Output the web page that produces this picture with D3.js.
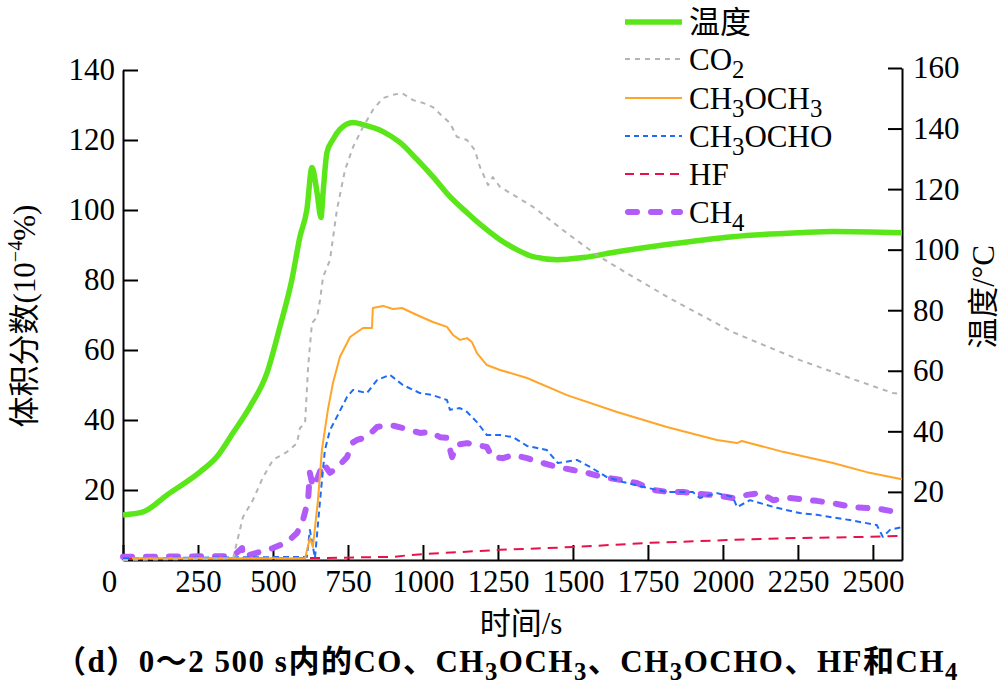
<!DOCTYPE html>
<html lang="zh">
<head>
<meta charset="UTF-8">
<title>0~2500 s 气体体积分数与温度</title>
<script src="https://d3js.org/d3.v7.min.js"></script>
<style>
  body { margin: 0; background: #fff; }
  svg { display: block; font-family: "Liberation Serif", "Noto Sans CJK SC", serif; }
  .axis path, .axis line { stroke: #000; stroke-width: 2px; }
  .axis text { font-size: 31px; fill: #000; font-family: "Liberation Serif", serif; }
  .series { fill: none; }
</style>
</head>
<body>
<div id="chart"></div>
<script>
// ---- data ----
const xTicks = [0, 250, 500, 750, 1000, 1250, 1500, 1750, 2000, 2250, 2500];
const leftTicks = [20, 40, 60, 80, 100, 120, 140];
const rightTicks = [20, 40, 60, 80, 100, 120, 140, 160];

// temperature, °C (right axis)
const tempData = [[0,12.4],[67,13.4],[147,19],[257,26.6],[313,31.6],[367,39.5],[423,48.1],[480,59.3],
  [523,74.5],[563,90.1],[590,104.3],[613,113.2],[630,127.1],[647,118.8],[660,110.6],[667,118.8],
  [680,132.1],[700,136.4],[723,139.7],[767,142],[800,141.3],[867,139],[923,135.4],[980,129.8],
  [1033,124.1],[1090,117.5],[1147,112.2],[1200,107.6],[1257,103.3],[1313,100],[1367,97.7],
  [1447,96.7],[1533,97.4],[1647,99.3],[1813,101.7],[2033,104.3],[2257,105.6],[2367,106],[2597,105.6]];

// volume fraction, 10^-4 % (left axis)
const co2Data = [[0,0],[367,0.5],[400,12.3],[433,17.1],[467,23.7],[500,28.6],[547,30.9],[580,33.4],
  [590,37.7],[607,39.1],[617,55.1],[630,67.7],[647,69.4],[657,74.3],[667,80.9],[690,85.7],[713,100],
  [740,111.4],[767,118],[800,123.7],[833,128.6],[867,132],[900,132.9],[930,133.4],[967,131.4],
  [1000,130.6],[1033,129.4],[1067,126.6],[1090,124.9],[1113,120.9],[1147,120],[1173,117.1],
  [1190,112.3],[1217,107.1],[1233,109.4],[1257,106.6],[1367,100.9],[1480,93.4],[1580,87.1],
  [1700,80.9],[1833,74.3],[2033,65.1],[2257,57.1],[2423,52],[2567,47.7],[2597,47.4]];

const dmeData = [[30,0.5],[607,0.5],[623,6.3],[633,3.7],[650,17.1],[663,31.4],[683,42.9],[700,50.6],
  [723,58],[757,63.7],[800,66.3],[830,66.3],[833,72],[867,72.6],[900,71.7],[930,72],[980,70],
  [1033,68],[1080,66.6],[1100,64.3],[1123,62.9],[1147,63.4],[1163,62.3],[1180,59.1],[1213,55.7],
  [1257,54.3],[1347,52],[1480,47.1],[1647,42.3],[1813,38],[1980,34.3],[2047,33.4],[2063,34],
  [2200,30.9],[2367,27.7],[2480,25.1],[2597,23.1]];

const mfData = [[0,0.5],[613,0.9],[623,8.6],[640,0.6],[657,17.1],[673,31.4],[690,37.1],[713,40.9],
  [747,46.6],[767,48.6],[813,47.7],[847,51.4],[890,52.9],[933,50],[990,47.7],[1033,47.1],[1080,45.7],
  [1090,42.9],[1123,43.4],[1147,42.3],[1180,39.4],[1213,35.7],[1257,35.7],[1300,35.1],[1347,32.6],
  [1413,31.4],[1450,27.7],[1513,28.6],[1557,26.6],[1613,23.7],[1667,22.3],[1733,20.9],[1813,19.4],
  [1900,19.4],[1923,17.7],[1980,19.1],[2033,18],[2047,15.1],[2090,17.1],[2180,14.9],[2257,13.4],
  [2313,12.9],[2423,11.4],[2513,10],[2533,6.6],[2557,8.6],[2597,9.4]];

const hfData = [[0,0.3],[680,0.6],[900,0.9],[957,1.4],[1000,1.7],[1257,2.9],[1500,3.7],[1757,4.9],
  [2013,5.7],[2257,6.3],[2480,6.6],[2597,6.9]];

const ch4Data = [[0,0.9],[367,1.1],[397,3.4],[400,0.9],[457,2.3],[500,3.4],[547,5.1],[580,7.7],
  [600,11.4],[617,17.1],[623,24.9],[633,20.9],[650,23.7],[667,27.7],[690,24.9],[713,26.3],[747,29.4],
  [763,33.4],[780,34.3],[813,35.1],[847,38],[890,38.6],[933,37.7],[990,36.3],[1023,36.6],[1057,35.1],
  [1080,34.9],[1097,29.4],[1113,32.9],[1147,33.4],[1213,32.3],[1230,29.4],[1267,29.1],[1300,30],
  [1347,29.1],[1400,27.7],[1447,26.6],[1500,25.7],[1547,24.9],[1600,23.7],[1657,22.9],[1713,22],
  [1767,20],[1823,19.4],[1867,19.4],[1913,18.9],[1967,18.6],[2033,17.7],[2080,18.6],[2123,19.1],
  [2167,17.1],[2223,17.7],[2313,16.9],[2380,16],[2433,15.1],[2523,14.6],[2597,13.4]];

// ---- layout ----
const width = 1003, height = 687;
const svg = d3.select("#chart").append("svg")
  .attr("width", width)
  .attr("height", height);

const x = d3.scaleLinear().domain([0, 2597]).range([123, 902]);
const yL = d3.scaleLinear().domain([0, 140]).range([560, 70]);
const yR = d3.scaleLinear().domain([-2.5, 160]).range([560, 68]);

// axes (ticks point inward)
const xAxis = svg.append("g").attr("class", "axis")
  .attr("transform", "translate(0,560)")
  .call(d3.axisBottom(x).tickValues(xTicks).tickSizeInner(-15).tickSizeOuter(0).tickPadding(10).tickFormat(d3.format("d")));
xAxis.selectAll(".tick text").filter(d => d === 0).attr("dx", -14);

svg.append("g").attr("class", "axis")
  .attr("transform", "translate(123,0)")
  .call(d3.axisLeft(yL).tickValues(leftTicks).tickSizeInner(-15).tickSizeOuter(0).tickPadding(8));

svg.append("g").attr("class", "axis")
  .attr("transform", "translate(902,0)")
  .call(d3.axisRight(yR).tickValues(rightTicks).tickSizeInner(-14).tickSizeOuter(0).tickPadding(11));

// series
const series = [
  { name: "温度", data: tempData, y: yR, color: "#5be61a", w: 5.5, dash: null, curve: d3.curveMonotoneX },
  { name: "CH4", data: ch4Data, y: yL, color: "#b15cf8", w: 6, dash: "9,14", cap: "round", curve: d3.curveLinear },
  { name: "HF", data: hfData, y: yL, color: "#e8114d", w: 2, dash: "10,7", curve: d3.curveLinear },
  { name: "CH3OCHO", data: mfData, y: yL, color: "#1c6cf5", w: 2, dash: "6,4", curve: d3.curveLinear },
  { name: "CH3OCH3", data: dmeData, y: yL, color: "#ffa529", w: 2, dash: null, curve: d3.curveLinear },
  { name: "CO2", data: co2Data, y: yL, color: "#b4b4b4", w: 2, dash: "5,5", curve: d3.curveLinear }
];

series.forEach(s => {
  const line = d3.line().x(d => x(d[0])).y(d => s.y(d[1])).curve(s.curve);
  svg.append("path")
    .datum(s.data)
    .attr("class", "series")
    .attr("d", line)
    .attr("stroke", s.color)
    .attr("stroke-width", s.w)
    .attr("stroke-dasharray", s.dash)
    .attr("stroke-linecap", s.cap || "butt")
    .attr("stroke-linejoin", "round");
});

// text with subscripts: parts = [[text, isSub], ...]
function richText(sel, parts, size) {
  parts.forEach(p => {
    const t = sel.append("tspan").text(p[0]);
    if (p[1] === "sub") t.attr("baseline-shift", "-30%").attr("font-size", size * 0.8);
    if (p[1] === "sup") t.attr("baseline-shift", "45%").attr("font-size", size * 0.65);
  });
}

// legend
const legendItems = [
  { parts: [["温度"]], color: "#5be61a", w: 5.5, dash: null },
  { parts: [["CO"], ["2", "sub"]], color: "#b4b4b4", w: 2, dash: "5,5" },
  { parts: [["CH"], ["3", "sub"], ["OCH"], ["3", "sub"]], color: "#ffa529", w: 2, dash: null },
  { parts: [["CH"], ["3", "sub"], ["OCHO"]], color: "#1c6cf5", w: 2, dash: "5,4" },
  { parts: [["HF"]], color: "#e8114d", w: 2, dash: "9,6" },
  { parts: [["CH"], ["4", "sub"]], color: "#b15cf8", w: 6, dash: "9,14", cap: "round" }
];
const legendY = [22, 59, 98, 136, 174, 212];
legendItems.forEach((d, i) => {
  const g = svg.append("g").attr("transform", `translate(0,${legendY[i]})`);
  g.append("line")
    .attr("x1", d.cap ? 628 : 625).attr("x2", d.cap ? 680 : 682)
    .attr("stroke", d.color).attr("stroke-width", d.w)
    .attr("stroke-dasharray", d.dash).attr("stroke-linecap", d.cap || "butt");
  const t = g.append("text").attr("x", 689).attr("y", 11).attr("font-size", 31);
  richText(t, d.parts, 31);
});

// axis titles
const yTitle = svg.append("text")
  .attr("transform", "translate(24,316) rotate(-90)")
  .attr("text-anchor", "middle").attr("dominant-baseline", "central")
  .attr("font-size", 31);
richText(yTitle, [["体积分数(10"], ["−4", "sup"], ["%)"]], 31);

svg.append("text")
  .attr("transform", "translate(983,297) rotate(-90)")
  .attr("text-anchor", "middle").attr("dominant-baseline", "central")
  .attr("font-size", 31)
  .text("温度/°C");

svg.append("text")
  .attr("x", 521).attr("y", 634)
  .attr("text-anchor", "middle")
  .attr("font-size", 31)
  .text("时间/s");

const caption = svg.append("text")
  .attr("x", 507).attr("y", 672)
  .attr("text-anchor", "middle")
  .attr("font-size", 31).attr("font-weight", "bold")
  .attr("letter-spacing", 1.5);
richText(caption, [["（d）0～2 500 s内的CO、CH"], ["3", "sub"], ["OCH"], ["3", "sub"], ["、CH"], ["3", "sub"],
  ["OCHO、HF和CH"], ["4", "sub"]], 31);
</script>
</body>
</html>
